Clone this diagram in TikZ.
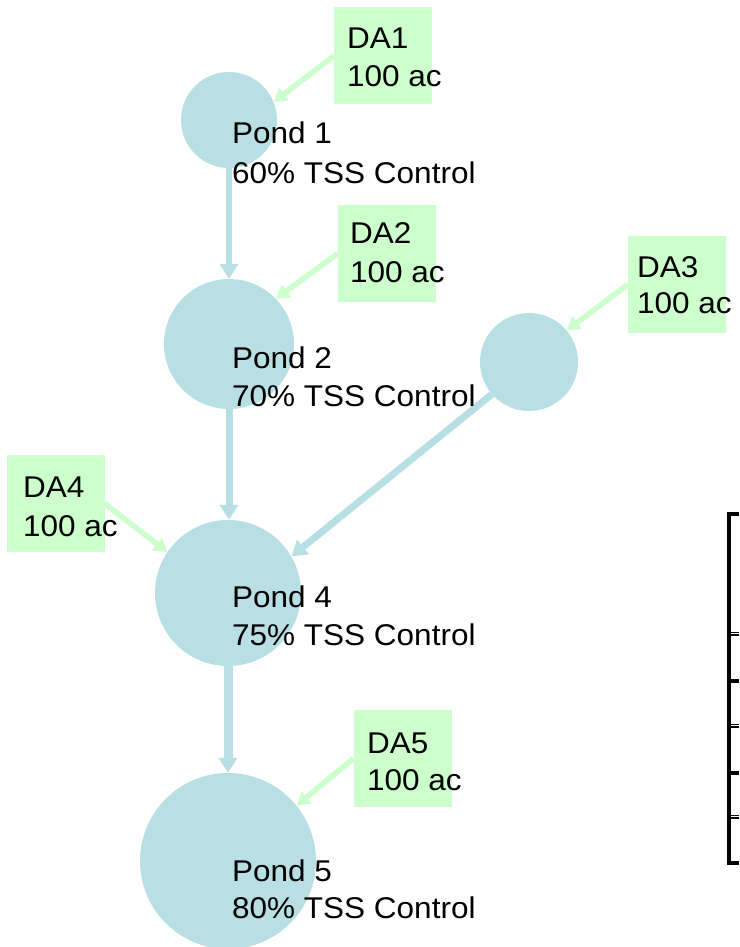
\documentclass[tikz,border=0pt]{standalone}
\usepackage{fontspec}
\setmainfont[FakeStretch=1.05]{Liberation Sans}
\usetikzlibrary{arrows.meta}
\definecolor{pondblue}{RGB}{184,223,227}
\definecolor{dagreen}{RGB}{204,255,204}
\tikzset{
  pond/.style={circle, fill=pondblue, draw=none, inner sep=0pt},
  dabox/.style={rectangle, fill=dagreen, draw=none, inner sep=0pt, minimum width=98pt, minimum height=97pt},
  txt/.style={anchor=base west, inner sep=0pt, font=\fontsize{30}{36}\selectfont},
  flow/.style={draw=pondblue, line width=#1, -{Triangle[length=15pt,width=18pt]}},
  inflow/.style={draw=dagreen, line width=5.5pt, -{Triangle[length=13pt,width=15pt]}},
  rule/.style={fill=black, draw=none}
}
\begin{document}
\begin{tikzpicture}[x=1pt,y=-1pt]
\useasboundingbox (0,0) rectangle (739,947);
% ponds
\node[pond, minimum size=96pt] (p1) at (229,120) {};
\node[pond, minimum size=130pt] (p2) at (229,344) {};
\node[pond, minimum size=98pt] (p3) at (529,362) {};
\node[pond, minimum size=146pt] (p4) at (228,593) {};
\node[pond, minimum size=176pt] (p5) at (228,861) {};
% drainage area boxes
\node[dabox] (da1) at (383,56) {};
\node[dabox] (da2) at (387,253.5) {};
\node[dabox] (da3) at (677,284.5) {};
\node[dabox] (da4) at (55.5,503.5) {};
\node[dabox] (da5) at (402.5,758.5) {};
% connectors between ponds
\draw[flow=6pt] (p1.south) -- (p1.south |- p2.north);
\draw[flow=7pt] (p2.south) -- (p2.south |- p4.north);
\draw[flow=7pt] (p3.221) -- (p4.30);
\draw[flow=9pt] (p4.south) -- (p4.south |- p5.north);
% inflows
\draw[inflow] (da1.west) -- (p1.22);
\draw[inflow] (da2.west) -- (p2.44);
\draw[inflow] (da3.west) -- (p3.40);
\draw[inflow] (da4.east) -- (p4.146);
\draw[inflow] (da5.west) -- (p5.39);
% texts
\node[txt] (t1a) at (232,143) {Pond 1};
\node[txt] (t1b) at (232,183) {60\% TSS Control};
\node[txt] (t2a) at (232,368) {Pond 2};
\node[txt] (t2b) at (232,406) {70\% TSS Control};
\node[txt] (t4a) at (232,607) {Pond 4};
\node[txt] (t4b) at (232,645) {75\% TSS Control};
\node[txt] (t5a) at (232,881) {Pond 5};
\node[txt] (t5b) at (232,918) {80\% TSS Control};
\node[txt] (d1a) at (347,49) {DA1};
\node[txt] (d1b) at (347,87) {100 ac};
\node[txt] (d2a) at (350,243) {DA2};
\node[txt] (d2b) at (350,282) {100 ac};
\node[txt] (d3a) at (637,277) {DA3};
\node[txt] (d3b) at (637,313) {100 ac};
\node[txt] (d4a) at (23,497) {DA4};
\node[txt] (d4b) at (23,536) {100 ac};
\node[txt] (d5a) at (367,753) {DA5};
\node[txt] (d5b) at (367,790) {100 ac};
% partial table at right edge
\path[rule] (727,512) rectangle (731,865);
\path[rule] (727,512) rectangle (739,516);
\path[rule] (727,861) rectangle (739,865);
\path[rule] (727,679) rectangle (739,682.5);
\path[rule] (727,771) rectangle (739,774.5);
\path[rule] (728,631.5) rectangle (739,632.7);
\path[rule] (728,634.3) rectangle (739,635.5);
\path[rule] (728,723.5) rectangle (739,724.7);
\path[rule] (728,726.3) rectangle (739,727.5);
\path[rule] (728,814.5) rectangle (739,815.7);
\path[rule] (728,817.3) rectangle (739,818.5);
\end{tikzpicture}
\end{document}
